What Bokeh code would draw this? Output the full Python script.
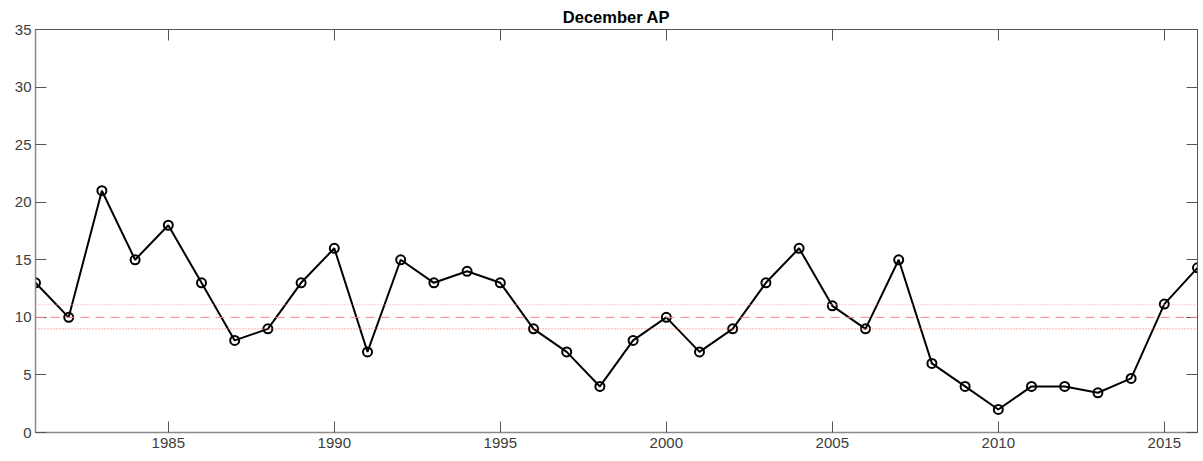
from bokeh.plotting import figure
from bokeh.models import Span, LinearAxis, FixedTicker, Title, CustomJSTickFormatter
from bokeh.embed import file_html
from bokeh.resources import INLINE

years = list(range(1981, 2017))
values = [13, 10, 21, 15, 18, 13, 8, 9, 13, 16, 7, 15, 13, 14, 13, 9, 7, 4, 8, 10,
          7, 9, 13, 16, 11, 9, 15, 6, 4, 2, 4, 4, 3.45, 4.7, 11.15, 14.3]
mean_level = 10.0
upper_level = 11.1
lower_level = 9.0
x_ticks = [1985, 1990, 1995, 2000, 2005, 2010, 2015]
y_ticks = [0, 5, 10, 15, 20, 25, 30, 35]
title_text = "December AP"

FONT = "Liberation Sans"
AX = "#8a8a8a"
LAB = "#3c3c3c"

p = figure(width=1203, height=461, x_range=(1981, 2016), y_range=(0, 35),
           output_backend="svg", toolbar_location=None,
           min_border_left=35, min_border_right=6, min_border_top=29, min_border_bottom=29,
           background_fill_color="white", border_fill_color="white")

p.title = None
p.xgrid.visible = False
p.ygrid.visible = False
p.outline_line_color = "#555555"
p.outline_line_width = 1

for ax in p.xaxis:
    ax.ticker = FixedTicker(ticks=x_ticks)
for ax in p.yaxis:
    ax.ticker = FixedTicker(ticks=y_ticks)

def style(ax):
    ax.axis_line_color = AX
    ax.axis_line_width = 1.5
    ax.major_tick_line_color = "#555555"
    ax.major_tick_in = 11
    ax.major_tick_out = 0
    ax.minor_tick_in = 0
    ax.minor_tick_out = 0
    ax.major_label_text_font = FONT
    ax.major_label_text_font_size = "15px"
    ax.major_label_text_color = LAB
    ax.major_label_standoff = 5

style(p.xaxis[0])
style(p.yaxis[0])
p.yaxis[0].major_label_standoff = 4

empty = CustomJSTickFormatter(code="return '';")

top = LinearAxis(ticker=FixedTicker(ticks=x_ticks), formatter=empty)
style(top)
top.axis_line_color = "#555555"
top.axis_line_width = 1
top.major_label_standoff = 0
p.add_layout(top, "above")

right = LinearAxis(ticker=FixedTicker(ticks=y_ticks), formatter=empty)
style(right)
right.axis_line_color = "#555555"
right.axis_line_width = 1
right.major_label_standoff = 0
p.add_layout(right, "right")

p.add_layout(Title(text=title_text, align="center", text_font=FONT, text_font_size="16.5px",
                   text_font_style="bold", text_color="#000000", offset=0, standoff=8), "above")

p.add_layout(Span(location=mean_level, dimension="width", line_color="#ff7f7f",
                  line_width=1, line_dash="9 6"))
p.add_layout(Span(location=upper_level, dimension="width", line_color="#ff9c9c",
                  line_width=1, line_dash="1 2"))
p.add_layout(Span(location=lower_level, dimension="width", line_color="#ff5c5c",
                  line_width=1, line_dash="1 2"))

p.line(years, values, line_color="black", line_width=2)
p.scatter(years, values, marker="circle", size=9, fill_color=None,
          line_color="black", line_width=2)

open("out.html", "w").write(file_html(p, INLINE))
